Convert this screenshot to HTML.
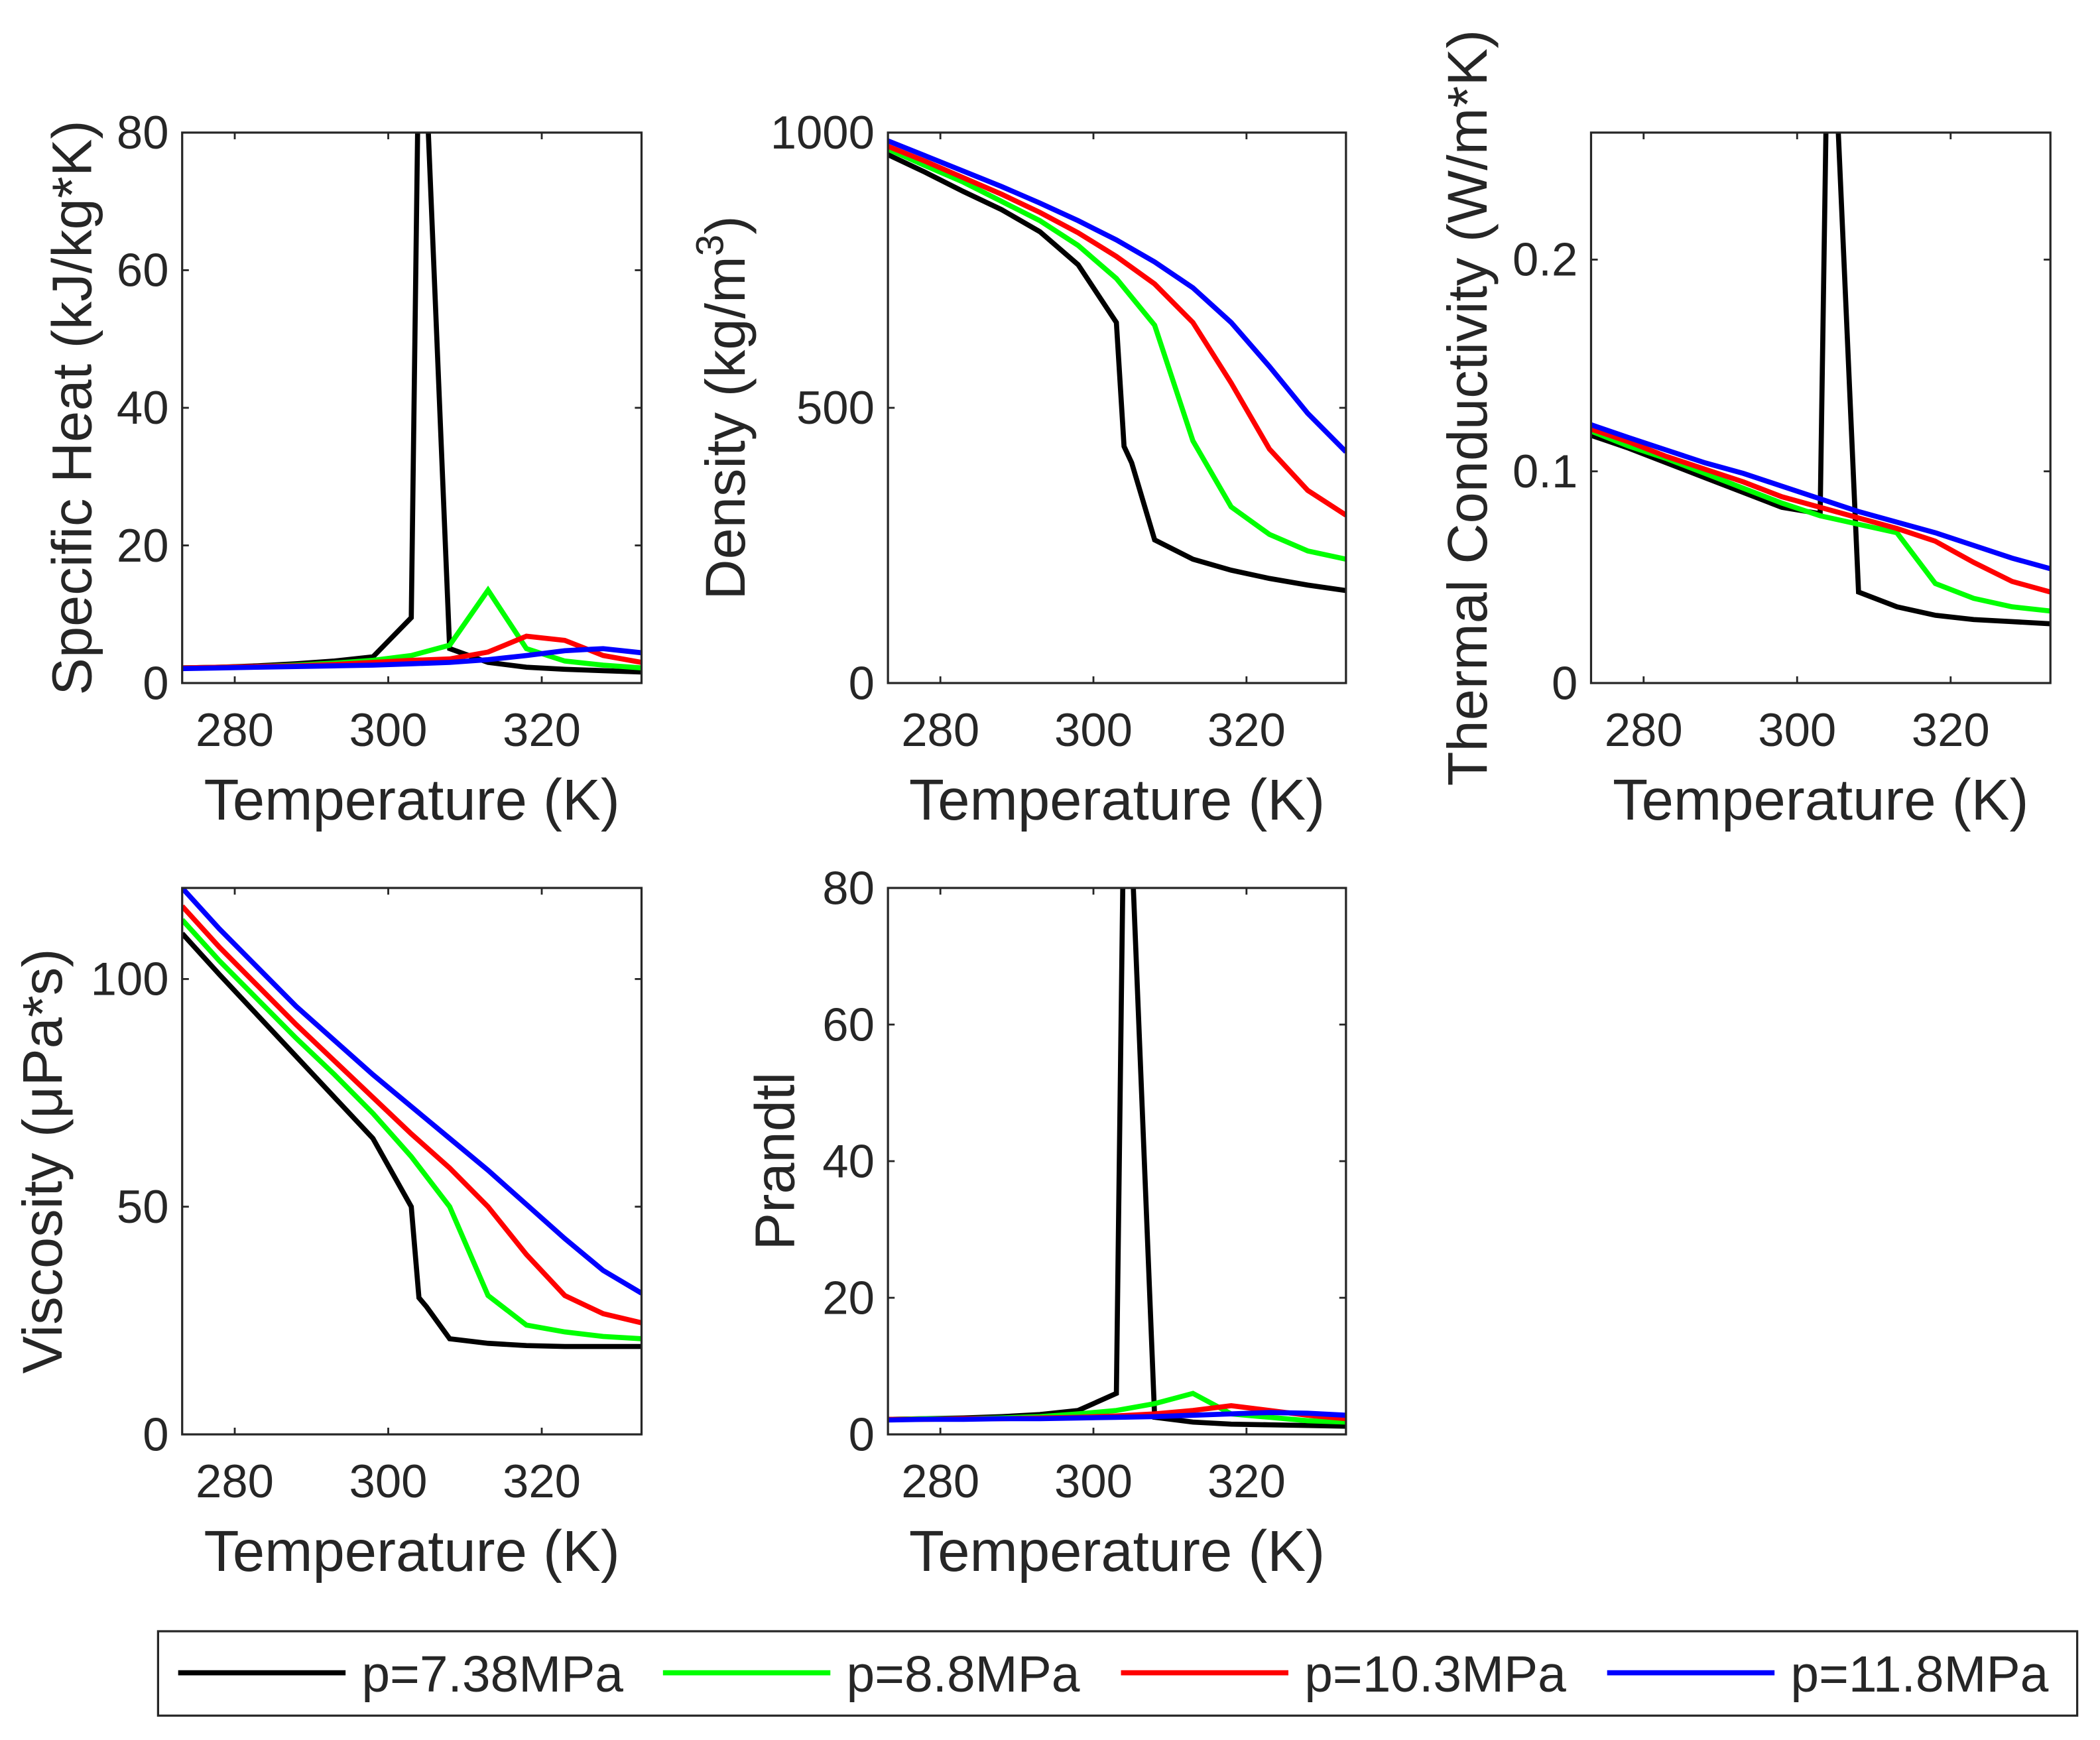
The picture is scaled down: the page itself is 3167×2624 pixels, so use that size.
<!DOCTYPE html>
<html><head><meta charset="utf-8"><style>
html,body{margin:0;padding:0;background:#fff;}
svg{display:block;}
text{font-family:"Liberation Sans",Arial,sans-serif;fill:#262626;}
</style></head><body>
<svg id="fig" width="3167" height="2624" viewBox="0 0 1568 1299.2" xmlns="http://www.w3.org/2000/svg"></svg>
<script>
const T = [273.15,278,283,288,293,298,303,304,305,308,313,318,323,328,333];
const TL = [273.15,278,283,288,293,298,303,308,313,318,323,328,333];
const seriesNames = ['p=7.38MPa','p=8.8MPa','p=10.3MPa','p=11.8MPa'];
const seriesColors = ['#000000','#00ff00','#ff0000','#0000ff'];
const xTicks = [280,300,320];
// Specific heat
const cpBlack = [2.2,2.3,2.5,2.8,3.2,3.8,9.5,95,86,5,3,2.3,2,1.8,1.6];
const cpGreen = [2.2,2.3,2.4,2.6,2.9,3.3,4,5.5,13.5,5,3.2,2.6,2.2];
const cpRed = [2.2,2.3,2.4,2.5,2.7,3,3.3,3.5,4.5,6.8,6.2,4,3];
const cpBlue = [2.1,2.2,2.3,2.4,2.5,2.6,2.8,3,3.4,4,4.7,5,4.4];
const cpTicks = [0,20,40,60,80];
// Density
const rhoBlack = [960,928,893,860,820,760,655,430,400,260,225,205,190,178,168];
const rhoGreen = [970,940,910,875,840,795,735,650,440,320,270,240,225];
const rhoRed = [975,948,918,888,855,818,775,725,655,545,425,350,305];
const rhoBlue = [985,958,930,902,872,840,805,765,718,655,575,490,420];
const rhoTicks = [0,500,1000];
// Thermal conductivity
const kBlack = [0.117,0.111,0.104,0.097,0.090,0.083,0.080,0.32,0.29,0.043,0.036,0.032,0.030,0.029,0.028];
const kGreen = [0.119,0.112,0.106,0.099,0.092,0.085,0.079,0.075,0.071,0.047,0.040,0.036,0.034];
const kRed = [0.120,0.114,0.107,0.101,0.095,0.088,0.083,0.078,0.073,0.067,0.057,0.048,0.043];
const kBlue = [0.122,0.116,0.110,0.104,0.099,0.093,0.087,0.081,0.076,0.071,0.065,0.059,0.054];
const kTicks = [0,0.1,0.2];
// Viscosity
const muBlack = [110,101,92,83,74,65,50,30,28,21,20,19.5,19.3,19.3,19.3];
const muGreen = [113,104,95.5,87,79,70.5,61,50,30.5,24,22.5,21.5,21];
const muRed = [116,107,98.5,90,82,74,66,58.5,50,39.5,30.5,26.5,24.5];
const muBlue = [120,111,102.5,94,86.5,79,72,65,58,50.5,43,36,31];
const muTicks = [0,50,100];
// Prandtl
const prBlack = [2.2,2.3,2.4,2.6,2.9,3.5,6,95,86,2.5,1.8,1.5,1.4,1.3,1.2];
const prGreen = [2.2,2.3,2.3,2.4,2.6,3,3.5,4.5,6,3,2.5,2,1.8];
const prRed = [2.2,2.2,2.3,2.3,2.4,2.5,2.7,3,3.5,4.2,3.5,2.8,2.3];
const prBlue = [2.1,2.2,2.2,2.3,2.3,2.4,2.5,2.6,2.8,3,3.2,3.1,2.8];
const prTicks = [0,20,40,60,80];

const NS='http://www.w3.org/2000/svg';
const svg=document.getElementById('fig');
function mk(tag,attrs,parent){const e=document.createElementNS(NS,tag);for(const k in attrs)e.setAttribute(k,attrs[k]);(parent||svg).appendChild(e);return e;}
let clipId=0;
function panel(name,x0,y0,x1,y1,ymax,yTicks,fmt,series,ylabel,ylabelX,sup){
  const g=mk('g',{});
  
  
  const xs=t=>x0+(t-273.15)/(333-273.15)*(x1-x0);
  const ys=v=>y1-v/ymax*(y1-y0);
  const cid='c'+(clipId++);
  const cp=mk('clipPath',{id:cid},g);mk('rect',{x:x0,y:y0,width:x1-x0,height:y1-y0},cp);
  const lg=mk('g',{'clip-path':'url(#'+cid+')'},g);
  series.forEach((s,i)=>{
    const pts=s.t.map((t,j)=>xs(t).toFixed(2)+','+ys(s.v[j]).toFixed(2)).join(' ');
    const pl=mk('polyline',{points:pts,fill:'none',stroke:seriesColors[i],'stroke-width':3.8,'stroke-linejoin':'miter'},lg);
    
    
  });
  const box=mk('rect',{x:x0,y:y0,width:x1-x0,height:y1-y0,fill:'none',stroke:'#262626','stroke-width':1.6},g);
  
  
  xTicks.forEach(t=>{
    const X=xs(t);
    mk('line',{x1:X,y1:y1,x2:X,y2:y1-5,stroke:'#262626','stroke-width':1.4},g);
    mk('line',{x1:X,y1:y0,x2:X,y2:y0+5,stroke:'#262626','stroke-width':1.4},g);
    const tx=mk('text',{x:X,y:y1+47,'font-size':35,'text-anchor':'middle'},g);tx.textContent=t;
    
    
  });
  yTicks.forEach(v=>{
    const Y=ys(v);
    mk('line',{x1:x0,y1:Y,x2:x0+5,y2:Y,stroke:'#262626','stroke-width':1.4},g);
    mk('line',{x1:x1,y1:Y,x2:x1-5,y2:Y,stroke:'#262626','stroke-width':1.4},g);
    const tx=mk('text',{x:x0-10,y:Y+12,'font-size':35,'text-anchor':'end'},g);tx.textContent=fmt(v);
    
    
  });
  const xl=mk('text',{x:(x0+x1)/2,y:y1+102,'font-size':43,'text-anchor':'middle'},g);xl.textContent='Temperature (K)';
  
  
  const cy=(y0+y1)/2;
  const yl=mk('text',{x:ylabelX,y:cy,'font-size':42,'text-anchor':'middle',transform:'rotate(-90 '+ylabelX+' '+cy+')'},g);
  yl.textContent=ylabel;
  if(sup){const ts=mk('tspan',{dy:-16,'font-size':29},yl);ts.textContent='3';const t2=mk('tspan',{dy:16},yl);t2.textContent=')';}
  
  
}
const fi=v=>String(v);
panel('specific-heat',136,99,479,510,80,cpTicks,fi,[{t:T,v:cpBlack},{t:TL,v:cpGreen},{t:TL,v:cpRed},{t:TL,v:cpBlue}],'Specific Heat (kJ/kg*K)',68,false);
panel('density',663,99,1005,510,1000,rhoTicks,fi,[{t:T,v:rhoBlack},{t:TL,v:rhoGreen},{t:TL,v:rhoRed},{t:TL,v:rhoBlue}],'Density (kg/m',556,true);
panel('thermal-conductivity',1188,99,1531,510,0.26,kTicks,v=>String(v),[{t:T,v:kBlack},{t:TL,v:kGreen},{t:TL,v:kRed},{t:TL,v:kBlue}],'Thermal Conductivity (W/m*K)',1110,false);
panel('viscosity',136,663,479,1071,120,muTicks,fi,[{t:T,v:muBlack},{t:TL,v:muGreen},{t:TL,v:muRed},{t:TL,v:muBlue}],'Viscosity (\u03bcPa*s)',46,false);
panel('prandtl',663,663,1005,1071,80,prTicks,fi,[{t:T,v:prBlack},{t:TL,v:prGreen},{t:TL,v:prRed},{t:TL,v:prBlue}],'Prandtl',593,false);
// legend
const lg=mk('g',{});


mk('rect',{x:118,y:1218,width:1433,height:63,fill:'#fff',stroke:'#262626','stroke-width':1.6},lg);
const lx=[133,495,837,1200];
seriesNames.forEach((n,i)=>{
  const e=mk('g',{},lg);
  
  
  mk('line',{x1:lx[i],y1:1249,x2:lx[i]+125,y2:1249,stroke:seriesColors[i],'stroke-width':3.8},e);
  const t=mk('text',{x:lx[i]+137,y:1263,'font-size':38},e);t.textContent=n;
});
</script>
</body></html>
